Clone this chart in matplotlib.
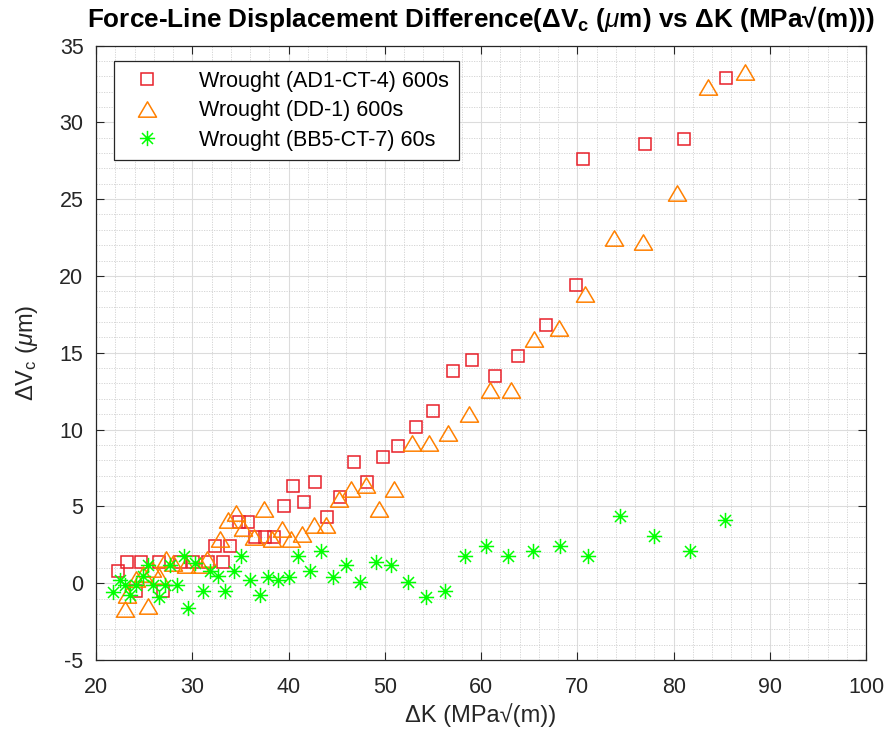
import matplotlib
matplotlib.use("Agg")
import matplotlib.pyplot as plt
from matplotlib.path import Path
from matplotlib.ticker import MultipleLocator

plt.rcParams['font.family'] = ['Liberation Sans', 'DejaVu Sans']
plt.rcParams['mathtext.fontset'] = 'custom'
plt.rcParams['mathtext.rm'] = 'Liberation Sans'
plt.rcParams['mathtext.it'] = 'Liberation Sans:italic'
plt.rcParams['mathtext.bf'] = 'Liberation Sans:bold'
plt.rcParams['axes.unicode_minus'] = False

# ---- data ----
ad1_dk = [22.3, 23.2, 24.7, 26.5, 28.7, 30.1, 31.6, 33.2, 24.2, 27.0,
          32.4, 33.9, 34.9, 35.8, 36.5, 37.6, 38.5, 39.5, 40.5, 41.6,
          42.75, 44.0, 45.35, 46.8, 48.2, 49.8, 51.4, 53.2, 55.05, 57.1,
          59.1, 61.4, 63.8, 66.75, 69.9, 70.6, 77.0, 81.1, 85.4]
ad1_dv = [0.8, 1.4, 1.4, 1.4, 1.4, 1.4, 1.4, 1.4, -0.5, -0.5,
          2.4, 2.4, 4.0, 4.0, 3.0, 3.0, 3.0, 5.0, 6.3, 5.3,
          6.6, 4.3, 5.6, 7.9, 6.6, 8.2, 8.9, 10.2, 11.2, 13.8,
          14.5, 13.5, 14.8, 16.8, 19.4, 27.6, 28.6, 28.9, 32.9]

dd1_dk = [23.0, 25.4, 23.2, 24.2, 24.9, 25.8, 26.5, 27.3, 28.0, 29.4,
          30.8, 31.5, 32.9, 33.7, 34.5, 35.3, 36.4, 37.4, 38.3, 39.3,
          40.3, 41.4, 42.6, 43.9, 45.2, 46.5, 48.0, 49.4, 51.0, 52.8,
          54.6, 56.6, 58.7, 60.9, 63.1, 65.5, 68.1, 70.8, 73.8, 76.8,
          80.3, 83.6, 87.4]
dd1_dv = [-1.7, -1.5, -0.8, 0.3, 0.6, 0.9, 0.5, 1.6, 1.3, 1.2,
          1.2, 1.6, 2.9, 4.1, 4.6, 3.6, 3.0, 4.8, 2.9, 3.5,
          2.9, 3.2, 3.8, 3.8, 5.5, 6.1, 6.4, 4.8, 6.1, 9.1,
          9.1, 9.8, 11.0, 12.6, 12.6, 15.9, 16.6, 18.8, 22.5, 22.2,
          25.4, 32.3, 33.3]

bb5_dk = [21.8, 22.5, 23.0, 23.5, 24.2, 24.9, 25.4, 25.95, 26.5, 27.2,
          27.7, 28.4, 29.1, 29.6, 30.3, 31.15, 31.8, 32.7, 33.4, 34.3,
          35.1, 36.0, 37.0, 37.9, 38.9, 40.0, 41.0, 42.2, 43.35, 44.6,
          46.0, 47.4, 49.05, 50.65, 52.45, 54.3, 56.3, 58.3, 60.5, 62.8,
          65.4, 68.2, 71.1, 74.4, 78.0, 81.7, 85.3]
bb5_dv = [-0.6, 0.2, -0.1, -0.8, -0.1, 0.5, 1.2, -0.1, -0.9, -0.1,
          1.2, -0.1, 1.8, -1.6, 1.3, -0.5, 0.8, 0.5, -0.5, 0.8,
          1.8, 0.2, -0.8, 0.4, 0.2, 0.4, 1.8, 0.8, 2.1, 0.4,
          1.2, 0.1, 1.4, 1.2, 0.1, -0.9, -0.5, 1.8, 2.4, 1.8,
          2.1, 2.4, 1.8, 4.4, 3.1, 2.1, 4.1]

labels = ['Wrought (AD1-CT-4) 600s', 'Wrought (DD-1) 600s', 'Wrought (BB5-CT-7) 60s']
x_ticks = [20, 30, 40, 50, 60, 70, 80, 90, 100]
y_ticks = [-5, 0, 5, 10, 15, 20, 25, 30, 35]

# ---- markers ----
tri = Path([(0, 0.85), (-1, -0.85), (1, -0.85), (0, 0.85)],
           [Path.MOVETO, Path.LINETO, Path.LINETO, Path.CLOSEPOLY])
d = 0.72
ast = Path([(-1, 0), (1, 0), (0, -1), (0, 1), (-d, -d), (d, d), (-d, d), (d, -d)],
           [Path.MOVETO, Path.LINETO] * 4)

fig = plt.figure(figsize=(8.93, 7.34), dpi=100)
ax = fig.add_axes([0.1075, 0.1008, 0.8625, 0.8372])

ax.plot(ad1_dk, ad1_dv, linestyle='none', marker='s', markersize=8,
        markerfacecolor='none', markeredgecolor='#E8202A', markeredgewidth=1.1,
        label=labels[0])
ax.plot(dd1_dk, dd1_dv, linestyle='none', marker=tri, markersize=13,
        markerfacecolor='none', markeredgecolor='#FF8000', markeredgewidth=1.1,
        label=labels[1])
ax.plot(bb5_dk, bb5_dv, linestyle='none', marker=ast, markersize=11,
        markerfacecolor='none', markeredgecolor='#00FF00', markeredgewidth=1.1,
        label=labels[2])

ax.set_xlim(20, 100)
ax.set_ylim(-5, 35)
ax.set_xticks(x_ticks)
ax.set_yticks(y_ticks)
ax.xaxis.set_minor_locator(MultipleLocator(2))
ax.yaxis.set_minor_locator(MultipleLocator(1))

axc = '#262626'
ax.tick_params(which='both', direction='in', top=True, right=True,
               colors=axc, labelsize=15.5)
ax.tick_params(axis='x', which='major', pad=12)
ax.tick_params(axis='y', which='major', pad=9)
ax.tick_params(which='major', length=6, width=0.8)
ax.tick_params(which='minor', length=0)
for s in ax.spines.values():
    s.set_color(axc)
    s.set_linewidth(0.9)

ax.grid(which='major', color='#DCDCDC', linestyle='-', linewidth=0.8)
ax.grid(which='minor', color='#D0D0D0', linestyle=(0, (1.5, 1.5)), linewidth=0.6)
ax.set_axisbelow(True)

ax.set_xlabel('ΔK (MPa√(m))', fontsize=17, color=axc, labelpad=4)
ax.set_ylabel('ΔV$_\\mathregular{c}$ ($\\mu$m)', fontsize=17, color=axc, labelpad=14)
ax.set_title('Force-Line Displacement Difference(ΔV$_\\mathregular{c}$ ($\\mu$m) vs ΔK (MPa√(m)))',
             fontsize=18.8, fontweight='bold', pad=13)

leg = ax.legend(loc='upper left', bbox_to_anchor=(0.0234, 0.975), fontsize=15.5,
                frameon=True, fancybox=False, edgecolor=axc, framealpha=1,
                borderpad=0.45, handletextpad=1.3, labelspacing=0.4,
                handlelength=2.2, borderaxespad=0)
leg.get_frame().set_linewidth(0.9)

fig.savefig('out.png', dpi=100)
